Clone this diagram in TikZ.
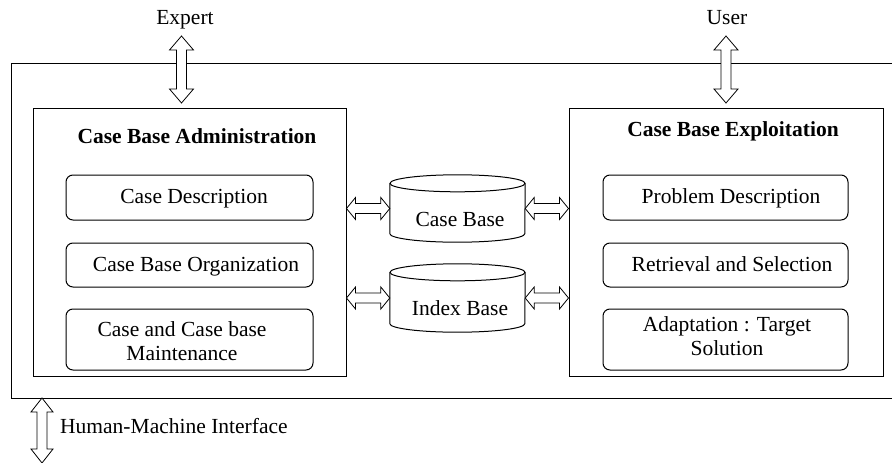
\documentclass[tikz,border=0pt]{standalone}
\usepackage{fontspec}
\setmainfont{Liberation Serif}
\usetikzlibrary{calc}
\tikzset{
  txt/.style={inner sep=0pt, font=\fontsize{21.5}{24}\selectfont},
  ttl/.style={inner sep=0pt, font=\fontsize{21.5}{24}\selectfont\bfseries},
  bigbox/.style={draw, line width=1pt, minimum width=313pt, minimum height=268pt, inner sep=0pt},
  rbox/.style={draw, line width=1pt, rounded corners=7pt, minimum width=247pt, inner sep=0pt},
  ghost/.style={inner sep=0pt, minimum width=135pt, minimum height=67pt},
  cyl/.style={line width=1pt},
  arrowshape/.style={draw, fill=white, line width=0.8pt, line join=miter},
  frame/.style={line width=1pt}
}
\newcommand\dblarrow[5]{%
  \draw[arrowshape] let \p1=(#1), \p2=(#2),
    \n1={atan2(\y2-\y1,\x2-\x1)}, \n2={veclen(\x2-\x1,\y2-\y1)} in
    [shift={(\p1)}, rotate=\n1]
    (0,0) -- (#3,#4) -- (#3,#5) -- (\n2-#3,#5) -- (\n2-#3,#4) -- (\n2,0)
    -- (\n2-#3,-#4) -- (\n2-#3,-#5) -- (#3,-#5) -- (#3,-#4) -- cycle;}
\newcommand\drawcyl[1]{%
  \draw[cyl] ([yshift=-8.5pt]#1.north west) -- ([yshift=8.5pt]#1.south west)
    arc[start angle=180, end angle=360, x radius=67.5, y radius=8.5]
    -- ([yshift=-8.5pt]#1.north east);
  \draw[cyl] ([yshift=-8.5pt]#1.north) ellipse[x radius=67.5, y radius=8.5];}
\begin{document}
\begin{tikzpicture}[x=1pt, y=1pt]
\useasboundingbox (0,0) rectangle (892,-463);
% outer frame
\coordinate (fTR) at (892,-63);
\coordinate (fTL) at (11,-63);
\coordinate (fBL) at (11,-398);
\coordinate (fBR) at (892,-398);
\draw[frame] (fTR) -- (fTL) -- (fBL) -- (fBR);

% big boxes
\node[bigbox] (adm) at (189.5,-242) {};
\node[bigbox, minimum width=314pt] (expl) at (726,-242) {};
\node[ttl, anchor=base] (admT) at (197,-143) {Case Base Administration};
\node[ttl, anchor=base] (explT) at (733,-136) {Case Base Exploitation};

% left rounded boxes
\node[rbox, minimum height=45pt] (cd) at (189.5,-197.5) {};
\node[rbox, minimum height=44pt] (cbo) at (189.5,-265) {};
\node[rbox, minimum height=61pt] (ccm) at (189.5,-339.5) {};
\node[txt, anchor=base] (cdT) at (194,-203) {Case Description};
\node[txt, anchor=base] (cboT) at (196,-271) {Case Base Organization};
\node[txt, align=center] (ccmT) at (182,-341.5) {Case and Case base\\Maintenance};

% right rounded boxes
\node[rbox, minimum width=245pt, minimum height=45pt] (pd) at (725.5,-197.5) {};
\node[rbox, minimum width=245pt, minimum height=44pt] (rs) at (725.5,-265) {};
\node[rbox, minimum width=245pt, minimum height=61pt] (ats) at (725.5,-339.5) {};
\node[txt, anchor=base] (pdT) at (731,-203) {Problem Description};
\node[txt, anchor=base] (rsT) at (732,-271) {Retrieval and Selection};
\node[txt, align=center] (atsT) at (727,-336) {Adaptation : Target\\Solution};

% cylinders
\node[ghost] (cb) at (457.5,-208.5) {};
\node[ghost, minimum height=68pt] (ib) at (457.5,-298) {};
\drawcyl{cb}
\drawcyl{ib}
\node[txt, anchor=base] (cbT) at (460,-226) {Case Base};
\node[txt, anchor=base] (ibT) at (460,-315) {Index Base};

% horizontal arrows
\dblarrow{adm.east |- cb.west}{cb.west}{9}{11}{5}
\dblarrow{cb.east}{expl.west |- cb.east}{9}{11}{5}
\dblarrow{adm.east |- ib.west}{ib.west}{9}{11}{5}
\dblarrow{ib.east}{expl.west |- ib.east}{9}{11}{5}

% labels and vertical arrows
\node[txt, anchor=base] (expert) at (185,-24) {Expert};
\node[txt, anchor=base] (user) at (727,-24) {User};
\coordinate (xa) at (181.5,-36);
\coordinate (xb) at (181.5,-103);
\coordinate (ua) at (726,-36);
\coordinate (ub) at (726,-103);
\dblarrow{xa}{xb}{14}{12}{5}
\dblarrow{ua}{ub}{14}{12}{5}
\coordinate (ha) at (42,-398);
\coordinate (hb) at (42,-463);
\dblarrow{ha}{hb}{14}{11}{5}
\node[txt, anchor=base west] (hmi) at (60,-433) {Human-Machine Interface};
\end{tikzpicture}
\end{document}
